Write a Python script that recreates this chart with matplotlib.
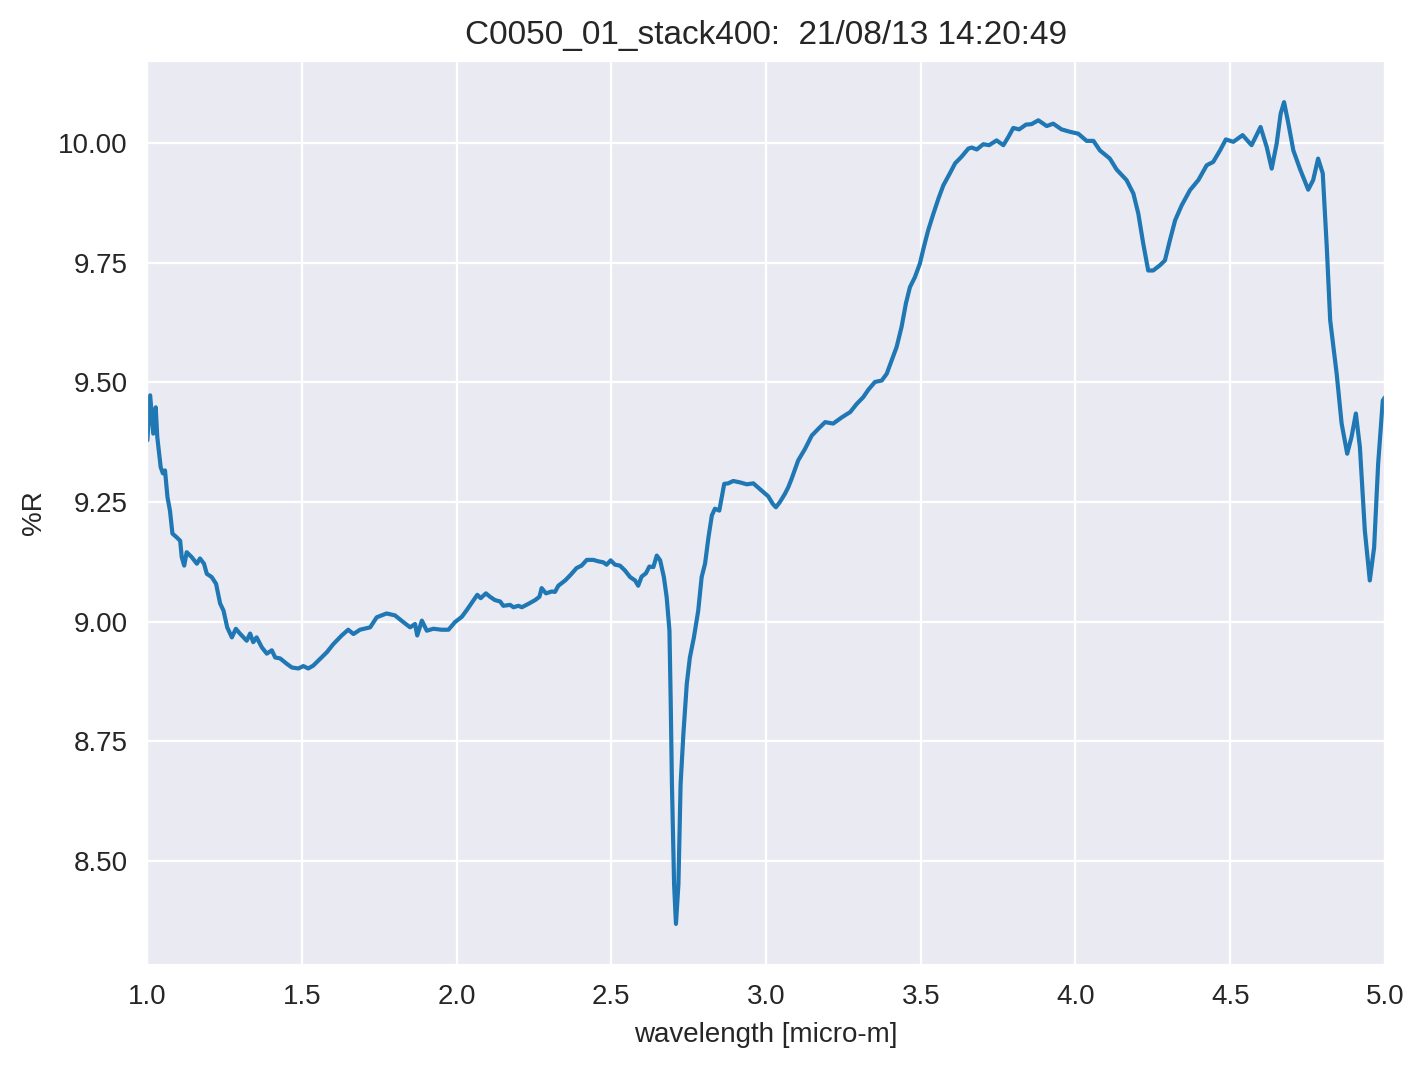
import matplotlib
matplotlib.use("Agg")
import matplotlib.pyplot as plt
import seaborn as sns

sns.set_style("darkgrid")
plt.rcParams['font.family'] = ['Liberation Sans', 'DejaVu Sans']

# wavelength [micro-m] and reflectance [%R]
wavelength = [
    1.001, 1.010, 1.020, 1.028, 1.033, 1.044, 1.051, 1.058, 1.066, 1.074,
    1.082, 1.096, 1.107, 1.112, 1.120, 1.128, 1.144, 1.161, 1.171, 1.184,
    1.193, 1.209, 1.223, 1.236, 1.247, 1.259, 1.274, 1.287, 1.300, 1.322,
    1.333, 1.343, 1.354, 1.371, 1.387, 1.403, 1.414, 1.430, 1.451, 1.468,
    1.489, 1.505, 1.521, 1.537, 1.564, 1.581, 1.602, 1.629, 1.650, 1.667,
    1.688, 1.721, 1.742, 1.774, 1.801, 1.828, 1.850, 1.866, 1.873, 1.888,
    1.904, 1.925, 1.952, 1.974, 1.995, 2.017, 2.033, 2.054, 2.067, 2.078,
    2.095, 2.108, 2.124, 2.141, 2.151, 2.173, 2.184, 2.200, 2.211, 2.232,
    2.254, 2.268, 2.275, 2.289, 2.308, 2.318, 2.329, 2.351, 2.369, 2.388,
    2.404, 2.421, 2.442, 2.458, 2.474, 2.485, 2.498, 2.512, 2.528, 2.544,
    2.561, 2.577, 2.587, 2.598, 2.612, 2.623, 2.636, 2.647, 2.658, 2.670,
    2.679, 2.688, 2.692, 2.696, 2.703, 2.709, 2.717, 2.724, 2.733, 2.744,
    2.754, 2.767, 2.781, 2.792, 2.803, 2.814, 2.825, 2.835, 2.849, 2.857,
    2.865, 2.878, 2.894, 2.916, 2.938, 2.959, 2.975, 2.991, 3.007, 3.022,
    3.032, 3.045, 3.061, 3.072, 3.083, 3.094, 3.104, 3.126, 3.148, 3.169,
    3.191, 3.217, 3.245, 3.272, 3.293, 3.314, 3.331, 3.352, 3.374, 3.390,
    3.406, 3.422, 3.438, 3.452, 3.465, 3.481, 3.497, 3.510, 3.524, 3.541,
    3.557, 3.573, 3.594, 3.611, 3.632, 3.654, 3.665, 3.681, 3.702, 3.721,
    3.745, 3.767, 3.783, 3.799, 3.818, 3.840, 3.858, 3.880, 3.907, 3.928,
    3.955, 3.982, 4.009, 4.036, 4.058, 4.079, 4.111, 4.133, 4.165, 4.187,
    4.203, 4.219, 4.235, 4.251, 4.273, 4.289, 4.305, 4.322, 4.343, 4.370,
    4.397, 4.424, 4.445, 4.467, 4.486, 4.510, 4.540, 4.569, 4.598, 4.618,
    4.634, 4.650, 4.663, 4.674, 4.688, 4.704, 4.725, 4.752, 4.768, 4.784,
    4.799, 4.812, 4.823, 4.844, 4.860, 4.878, 4.892, 4.906, 4.919, 4.935,
    4.951, 4.965, 4.978, 4.993, 5.000,
]
reflectance = [
    9.379, 9.473, 9.393, 9.448, 9.386, 9.323, 9.310, 9.316, 9.260, 9.232,
    9.184, 9.176, 9.169, 9.135, 9.117, 9.145, 9.135, 9.121, 9.132, 9.121,
    9.100, 9.093, 9.079, 9.038, 9.023, 8.988, 8.967, 8.985, 8.975, 8.960,
    8.975, 8.957, 8.967, 8.946, 8.933, 8.940, 8.925, 8.923, 8.912, 8.904,
    8.902, 8.907, 8.902, 8.908, 8.925, 8.936, 8.953, 8.971, 8.983, 8.974,
    8.983, 8.988, 9.009, 9.017, 9.013, 8.999, 8.988, 8.995, 8.971, 9.002,
    8.981, 8.985, 8.983, 8.983, 8.999, 9.010, 9.024, 9.044, 9.056, 9.049,
    9.059, 9.052, 9.045, 9.042, 9.033, 9.035, 9.030, 9.033, 9.030, 9.037,
    9.045, 9.052, 9.070, 9.059, 9.063, 9.062, 9.075, 9.086, 9.098, 9.112,
    9.117, 9.129, 9.129, 9.126, 9.124, 9.119, 9.128, 9.119, 9.117, 9.107,
    9.093, 9.086, 9.075, 9.094, 9.101, 9.115, 9.114, 9.138, 9.128, 9.093,
    9.051, 8.981, 8.835, 8.660, 8.451, 8.368, 8.451, 8.660, 8.765, 8.870,
    8.925, 8.967, 9.023, 9.093, 9.121, 9.176, 9.222, 9.236, 9.232, 9.260,
    9.288, 9.289, 9.294, 9.291, 9.287, 9.289, 9.280, 9.271, 9.262, 9.246,
    9.239, 9.250, 9.267, 9.281, 9.299, 9.319, 9.337, 9.361, 9.389, 9.403,
    9.417, 9.414, 9.427, 9.438, 9.455, 9.469, 9.485, 9.501, 9.504, 9.518,
    9.546, 9.574, 9.616, 9.665, 9.699, 9.720, 9.748, 9.783, 9.818, 9.853,
    9.884, 9.912, 9.937, 9.958, 9.972, 9.989, 9.991, 9.987, 9.998, 9.996,
    10.006, 9.996, 10.013, 10.032, 10.029, 10.039, 10.040, 10.048, 10.036, 10.041,
    10.029, 10.024, 10.020, 10.005, 10.005, 9.985, 9.968, 9.945, 9.923, 9.895,
    9.853, 9.790, 9.734, 9.734, 9.745, 9.755, 9.797, 9.839, 9.870, 9.902,
    9.923, 9.954, 9.961, 9.985, 10.008, 10.003, 10.017, 9.996, 10.034, 9.992,
    9.947, 9.999, 10.062, 10.086, 10.041, 9.985, 9.947, 9.903, 9.923, 9.968,
    9.937, 9.783, 9.630, 9.518, 9.414, 9.351, 9.386, 9.435, 9.365, 9.190,
    9.086, 9.155, 9.330, 9.462, 9.469,
]

fig, ax = plt.subplots(figsize=(7.125, 5.345), dpi=200)
ax.plot(wavelength, reflectance, color='#1f77b4', linewidth=1.5)
ax.set_xlim(1.0, 5.0)
ax.set_xlabel('wavelength [micro-m]')
ax.set_ylabel('%R')
ax.set_title('C0050_01_stack400:  21/08/13 14:20:49')
ax.yaxis.set_major_formatter(matplotlib.ticker.FormatStrFormatter('%.2f'))
fig.subplots_adjust(left=0.1032, right=0.9719, top=0.9429, bottom=0.0973)
fig.savefig('out.png', dpi=200)
